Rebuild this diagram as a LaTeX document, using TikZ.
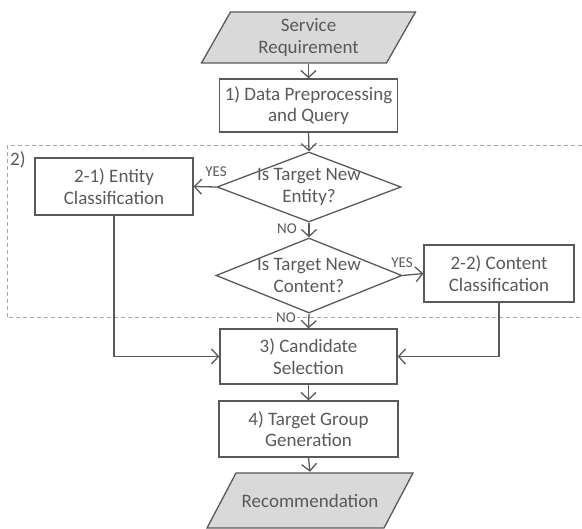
\documentclass[tikz,border=0pt]{standalone}
\usepackage{fontspec}
\setmainfont{Carlito}
\usetikzlibrary{shapes.geometric,arrows.meta}
\definecolor{ink}{HTML}{595959}
\definecolor{boxfill}{HTML}{D9D9D9}
\definecolor{dashgray}{HTML}{A6A6A6}
\begin{document}
\begin{tikzpicture}[x=1pt,y=-1pt,
  every node/.style={text=ink,font=\fontsize{19}{21.5}\selectfont,align=center},
  procbox/.style={draw=ink,line width=1.3pt,rectangle,inner sep=0pt},
  iobox/.style={rectangle,inner sep=0pt,minimum height=#1,
    path picture={\draw[draw=ink,fill=boxfill,line width=1.3pt]
      ([xshift=30pt,yshift=-1pt]path picture bounding box.north west) --
      ([xshift=-1pt,yshift=-1pt]path picture bounding box.north east) --
      ([xshift=-30pt,yshift=1pt]path picture bounding box.south east) --
      ([xshift=1pt,yshift=1pt]path picture bounding box.south west) -- cycle;}},
  decision/.style={draw=ink,line width=1.3pt,diamond,inner xsep=-45pt,inner ysep=-18pt},
  flow/.style={draw=ink,line width=1.3pt,-{Straight Barb[length=7pt,width=15pt]}},
  yn/.style={font=\fontsize{15}{17}\selectfont,inner sep=0pt},
  group/.style={draw=dashgray,line width=1pt,dash pattern=on 4pt off 3pt}
]
\useasboundingbox (0,0) rectangle (582,529);

% dashed group
\coordinate (gTR) at (582,146);
\coordinate (gTL) at (7,146);
\coordinate (gBL) at (7,318);
\coordinate (gBR) at (582,318);
\draw[group] (gTR) -- (gTL) -- (gBL) -- (gBR);
\node[anchor=base west,inner sep=0pt] (glabel) at (10,166) {2)};

% nodes
\node[iobox=53pt,minimum width=216pt] (sr) at (308.5,37.5) {Service\\Requirement};
\node[procbox,minimum width=178pt,minimum height=53pt] (p1) at (308.5,105.5) {1) Data Preprocessing\\and Query};
\node[decision,minimum width=184pt,minimum height=70pt] (d1) at (309,187) {Is Target New\\Entity?};
\node[procbox,minimum width=158pt,minimum height=57pt] (ent) at (114,186.5) {2-1) Entity\\Classification};
\node[decision,minimum width=186pt,minimum height=75pt] (d2) at (309,275.5) {Is Target New\\Content?};
\node[procbox,minimum width=150pt,minimum height=57pt] (con) at (499,273.5) {2-2) Content\\Classification};
\node[procbox,minimum width=177pt,minimum height=55pt] (cand) at (308.5,356.5) {3) Candidate\\Selection};
\node[procbox,minimum width=179pt,minimum height=56pt] (p4) at (308.5,429) {4) Target Group\\Generation};
\node[iobox=57pt,minimum width=208pt] (rec) at (310,500.5) {Recommendation};

% connectors
\draw[flow] (sr.south) -- (p1.north);
\draw[flow] (p1.south) -- (d1.north);
\draw[flow] (d1.west) -- (ent.east);
\draw[flow] (d1.south) -- (d2.north);
\draw[flow] (d2.east) -- (con.west);
\draw[flow] (d2.south) -- (cand.north);
\draw[flow] (ent.south) |- (cand.west);
\draw[flow] (con.south) |- (cand.east);
\draw[flow] (cand.south) -- (p4.north);
\draw[flow] (p4.south) -- (rec.north);

% labels
\node[yn] (yes1) at (216,172) {YES};
\node[yn,anchor=east] (no1) at (297,229) {NO};
\node[yn] (yes2) at (402,263) {YES};
\node[yn,anchor=east,fill=white,inner xsep=1pt] (no2) at (297,318) {NO};
\end{tikzpicture}
\end{document}
